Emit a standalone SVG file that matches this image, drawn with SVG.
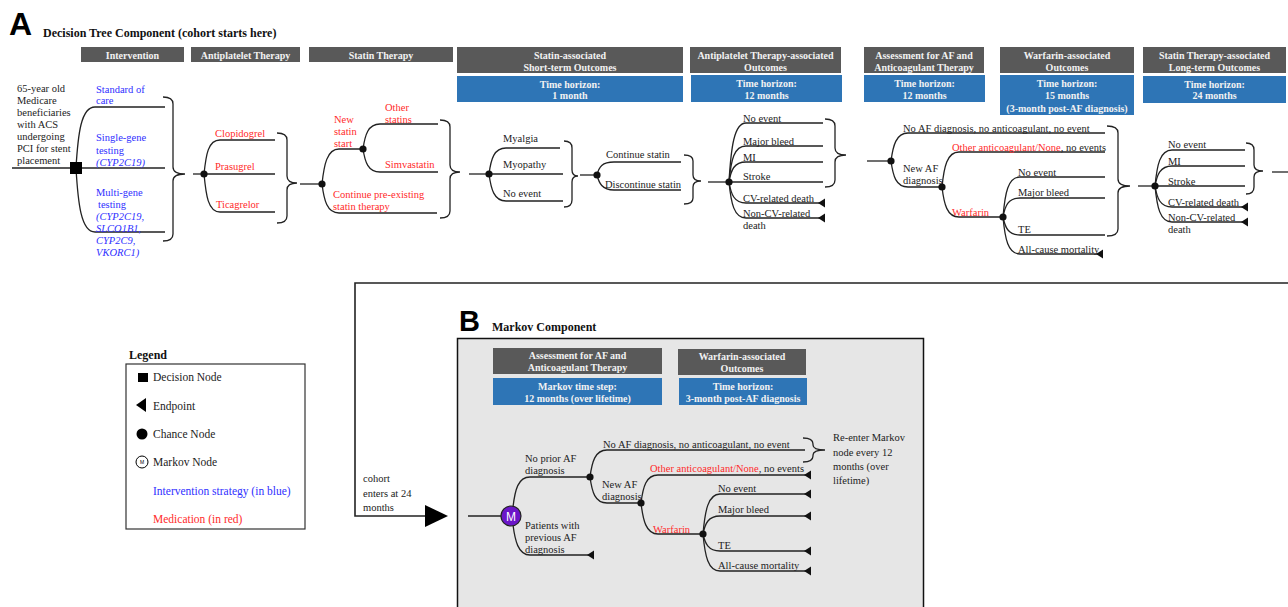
<svg xmlns="http://www.w3.org/2000/svg" xmlns:xlink="http://www.w3.org/1999/xlink" width="1288" height="607" viewBox="0 0 1288 607">
<style>
.ln{fill:none;stroke:#222;stroke-width:1.3}
.t{font-family:"Liberation Serif",serif;font-size:10.5px;fill:#222}
.lg{font-family:"Liberation Serif",serif;font-size:11.5px;fill:#222}
.bl{fill:#2f2fff}
.rd{fill:#ff2a2a}
.it{font-style:italic}
.hg{fill:#595959}
.hb{fill:#2e75b6}
.ht{font-family:"Liberation Serif",serif;font-size:10px;font-weight:bold;fill:#f2f2f2;text-anchor:middle}
.dot{fill:#111}
.big{font-family:"Liberation Sans",Arial,sans-serif;font-weight:bold;fill:#000}
.ttl{font-family:"Liberation Serif",serif;font-weight:bold;font-size:12px;fill:#111}
</style>
<defs>
<path id="ep" d="M0,0 L7,-4.5 L7,4.5 Z" fill="#111"/>
</defs>
<rect width="1288" height="607" fill="#fff"/>

<!-- Titles -->
<g id="titleA">
<text class="big" x="9" y="35" font-size="32">A</text>
<text class="ttl" x="43" y="37">Decision Tree Component (cohort starts here)</text>
</g>

<!-- Headers A -->
<g id="headersA">
<rect class="hg" x="81" y="47" width="103" height="15"/><text class="ht" x="132.5" y="59">Intervention</text>
<rect class="hg" x="191" y="47" width="109" height="15"/><text class="ht" x="245.5" y="59">Antiplatelet Therapy</text>
<rect class="hg" x="309" y="47" width="144" height="15"/><text class="ht" x="381" y="59">Statin Therapy</text>
<rect class="hg" x="457" y="47" width="226" height="26"/><text class="ht" x="570" y="59">Statin-associated</text><text class="ht" x="570" y="71">Short-term Outcomes</text>
<rect class="hb" x="457" y="76" width="226" height="26"/><text class="ht" x="570" y="88">Time horizon:</text><text class="ht" x="570" y="99">1 month</text>
<rect class="hg" x="690" y="47" width="151" height="26"/><text class="ht" x="765.5" y="59">Antiplatelet Therapy-associated</text><text class="ht" x="765.5" y="71">Outcomes</text>
<rect class="hb" x="691" y="75" width="151" height="27"/><text class="ht" x="766.5" y="87">Time horizon:</text><text class="ht" x="766.5" y="99">12 months</text>
<rect class="hg" x="864" y="47" width="120" height="26"/><text class="ht" x="924" y="59">Assessment for AF and</text><text class="ht" x="924" y="71">Anticoagulant Therapy</text>
<rect class="hb" x="864" y="75" width="121" height="27"/><text class="ht" x="924.5" y="87">Time horizon:</text><text class="ht" x="924.5" y="99">12 months</text>
<rect class="hg" x="1000" y="47" width="134" height="26"/><text class="ht" x="1067" y="59">Warfarin-associated</text><text class="ht" x="1067" y="71">Outcomes</text>
<rect class="hb" x="1000" y="75" width="134" height="40"/><text class="ht" x="1067" y="87">Time horizon:</text><text class="ht" x="1067" y="99">15 months</text><text class="ht" x="1067" y="112">(3-month post-AF diagnosis)</text>
<rect class="hg" x="1143" y="47" width="143" height="26"/><text class="ht" x="1214.5" y="59">Statin Therapy-associated</text><text class="ht" x="1214.5" y="71">Long-term Outcomes</text>
<rect class="hb" x="1143" y="76" width="143" height="27"/><text class="ht" x="1214.5" y="88">Time horizon:</text><text class="ht" x="1214.5" y="99">24 months</text>
</g>

<!-- B panel (background) -->
<g id="titleB">
<text class="big" x="459" y="331" font-size="29">B</text>
<text class="ttl" x="492" y="331" font-size="11">Markov Component</text>
</g>
<rect id="markov-panel" x="457.5" y="338.5" width="466" height="280" fill="#e6e6e6" stroke="#111" stroke-width="1.5"/>
<g id="headersB">
<rect class="hg" x="493" y="348" width="169" height="26"/><text class="ht" x="577.5" y="359">Assessment for AF and</text><text class="ht" x="577.5" y="371">Anticoagulant Therapy</text>
<rect class="hb" x="493" y="378" width="169" height="27"/><text class="ht" x="577.5" y="390">Markov time step:</text><text class="ht" x="577.5" y="402">12 months (over lifetime)</text>
<rect class="hg" x="678" y="349" width="128" height="26"/><text class="ht" x="742" y="360">Warfarin-associated</text><text class="ht" x="742" y="372">Outcomes</text>
<rect class="hb" x="679" y="378" width="128" height="27"/><text class="ht" x="743" y="390">Time horizon:</text><text class="ht" x="743" y="402">3-month post-AF diagnosis</text>
</g>

<!-- Connectors -->
<g id="connectors" class="ln">
<!-- decision -->
<path d="M12,168 H165"/>
<path d="M76,168 C78,134 81,107 95,107 H165"/>
<path d="M76,168 C78,203 81,232 95,232 H165"/>
<path d="M163,97 Q173,97 173,104 V167 Q173,174 185,174 Q173,174 173,181 V234 Q173,241 163,241"/>
<path d="M193,174 H204"/>
<!-- antiplatelet -->
<path d="M204,174 H275"/>
<path d="M204,174 C206,155 208,140 220,140 H275"/>
<path d="M204,174 C206,195 208,212 220,212 H275"/>
<path d="M277,133 Q287,133 287,140 V176 Q287,183 297,183 Q287,183 287,190 V216 Q287,223 277,223"/>
<path d="M300,184 H322"/>
<!-- statin -->
<path d="M322,184 C324,165 327,149 339,149 H363"/>
<path d="M322,184 C324,200 327,213 339,213 H437"/>
<path d="M363,149 C365,135 368,124 380,124 H438"/>
<path d="M363,149 C365,162 368,172 380,172 H438"/>
<path d="M440,120 Q450,120 450,127 V165 Q450,172 460,172 Q450,172 450,179 V211 Q450,218 440,218"/>
<path d="M469,174 H489"/>
<!-- short-term -->
<path d="M489,174 H563"/>
<path d="M489,174 C491,159 494,148 506,148 H560"/>
<path d="M489,174 C491,189 494,201 506,201 H563"/>
<path d="M564,141 Q572,141 572,148 V170 Q572,176 578,176 Q572,176 572,182 V200 Q572,207 564,207"/>
<path d="M580,175 H597"/>
<!-- continue statin -->
<path d="M597,175 C599,167 602,162 614,162 H681"/>
<path d="M597,175 C599,183 602,190 614,190 H681"/>
<path d="M684,155 Q693,155 693,161 V175 Q693,181 701,181 Q693,181 693,187 V198 Q693,204 684,204"/>
<path d="M708,182 H729"/>
<!-- antiplatelet outcomes -->
<path d="M729,182 C731,148 734,123 746,123 H823"/>
<path d="M729,182 C731,160 734,146 746,146 H823"/>
<path d="M729,182 C731,170 734,162 746,162 H823"/>
<path d="M729,182 H823"/>
<path d="M729,182 C731,194 734,203 746,203 H825"/>
<path d="M729,182 C731,203 734,218 746,218 H825"/>
<path d="M825,119 Q835,119 835,126 V148 Q835,155 846,155 Q835,155 835,162 V180 Q835,187 825,187"/>
<path d="M867,161 H891"/>
<!-- AF assessment -->
<path d="M891,161 C893,146 896,133 908,133 H1105"/>
<path d="M891,161 C893,176 896,187 908,187 H942"/>
<path d="M942,187 C944,167 947,152 959,152 H1105"/>
<path d="M942,187 C944,204 947,217 959,217 H1003"/>
<path d="M1003,217 C1005,193 1008,177 1020,177 H1105"/>
<path d="M1003,217 C1005,206 1008,198 1020,198 H1105"/>
<path d="M1003,217 C1005,227 1008,235 1020,235 H1105"/>
<path d="M1003,217 C1005,239 1008,254 1020,254 H1103"/>
<path d="M1107,126 Q1118,126 1118,133 V179 Q1118,186 1130,186 Q1118,186 1118,193 V229 Q1118,236 1107,236"/>
<path d="M1138,186 H1155"/>
<!-- long-term -->
<path d="M1155,186 C1157,165 1160,150 1172,150 H1245"/>
<path d="M1155,186 C1157,175 1160,166 1172,166 H1245"/>
<path d="M1155,186 H1245"/>
<path d="M1155,186 C1157,198 1160,207 1172,207 H1248"/>
<path d="M1155,186 C1157,207 1160,222 1172,222 H1248"/>
<path d="M1246,143 Q1254,143 1254,150 V165 Q1254,171 1263,171 Q1254,171 1254,177 V187 Q1254,194 1246,194"/>
<path d="M1272,172 H1288"/>
<!-- cohort link to Markov -->
<path d="M1288,283 H355 V516 H427" stroke-width="1.6"/>
<!-- Markov tree -->
<path d="M468,516 H501"/>
<path d="M513,507 C515,490 518,477 530,477 H590"/>
<path d="M513,525 C515,540 518,555 530,555 H594"/>
<path d="M590,477 C592,462 595,450 607,450 H805"/>
<path d="M590,477 C592,492 595,503 607,503 H641"/>
<path d="M641,503 C643,487 646,475 658,475 H811"/>
<path d="M641,503 C643,520 646,534 658,534 H703"/>
<path d="M703,534 C705,511 708,494 720,494 H811"/>
<path d="M703,534 C705,524 708,516 720,516 H811"/>
<path d="M703,534 C705,543 708,551 720,551 H811"/>
<path d="M703,534 C705,556 708,571 720,571 H811"/>
<path d="M803,438 Q813,438 813,444 V445 Q813,450 825,450 Q813,450 813,455 V456 Q813,462 803,462"/>
</g>
<polygon id="cohort-arrow" points="425,505 448,516 425,527" fill="#000"/>

<!-- Endpoints -->
<g id="endpoints">
<use xlink:href="#ep" href="#ep" x="818" y="203"/>
<use xlink:href="#ep" href="#ep" x="818" y="218"/>
<use xlink:href="#ep" href="#ep" x="1096" y="254"/>
<use xlink:href="#ep" href="#ep" x="1241" y="207"/>
<use xlink:href="#ep" href="#ep" x="1241" y="222"/>
<use xlink:href="#ep" href="#ep" x="587" y="555"/>
<use xlink:href="#ep" href="#ep" x="804" y="475"/>
<use xlink:href="#ep" href="#ep" x="804" y="494"/>
<use xlink:href="#ep" href="#ep" x="804" y="516"/>
<use xlink:href="#ep" href="#ep" x="804" y="551"/>
<use xlink:href="#ep" href="#ep" x="804" y="571"/>
</g>

<!-- Nodes A -->
<g id="node-population">
<text class="t" x="17" y="92">65-year old</text>
<text class="t" x="17" y="104">Medicare</text>
<text class="t" x="17" y="116">beneficiaries</text>
<text class="t" x="17" y="128">with ACS</text>
<text class="t" x="17" y="140">undergoing</text>
<text class="t" x="17" y="152">PCI for stent</text>
<text class="t" x="17" y="164">placement</text>
</g>
<g id="node-decision">
<rect x="70" y="162" width="12" height="12" fill="#000"/>
<text class="t bl" x="96" y="93">Standard of</text>
<text class="t bl" x="96" y="104">care</text>
<text class="t bl" x="96" y="141">Single-gene</text>
<text class="t bl" x="96" y="154">testing</text>
<text class="t bl it" x="96" y="166">(CYP2C19)</text>
<text class="t bl" x="96" y="196">Multi-gene</text>
<text class="t bl" x="98" y="208">testing</text>
<text class="t bl it" x="96" y="220">(CYP2C19,</text>
<text class="t bl it" x="96" y="232">SLCO1B1,</text>
<text class="t bl it" x="96" y="244">CYP2C9,</text>
<text class="t bl it" x="96" y="256">VKORC1)</text>
</g>
<g id="node-antiplatelet">
<circle class="dot" cx="204" cy="174" r="3.6"/>
<text class="t rd" x="215" y="137">Clopidogrel</text>
<text class="t rd" x="215" y="170">Prasugrel</text>
<text class="t rd" x="216" y="208">Ticagrelor</text>
</g>
<g id="node-statin">
<circle class="dot" cx="322" cy="184" r="3.6"/>
<text class="t rd" x="334" y="123">New</text>
<text class="t rd" x="334" y="135">statin</text>
<text class="t rd" x="334" y="147">start</text>
<text class="t rd" x="333" y="198">Continue pre-existing</text>
<text class="t rd" x="333" y="210">statin therapy</text>
</g>
<g id="node-new-statin">
<circle class="dot" cx="363" cy="149" r="3.6"/>
<text class="t rd" x="385" y="111">Other</text>
<text class="t rd" x="385" y="123">statins</text>
<text class="t rd" x="385" y="168">Simvastatin</text>
</g>
<g id="node-short-term">
<circle class="dot" cx="489" cy="174" r="3.6"/>
<text class="t" x="503" y="142">Myalgia</text>
<text class="t" x="503" y="168">Myopathy</text>
<text class="t" x="503" y="197">No event</text>
</g>
<g id="node-continue">
<circle class="dot" cx="597" cy="175" r="3.6"/>
<text class="t" x="606" y="158">Continue statin</text>
<text class="t" x="605" y="188">Discontinue statin</text>
</g>
<g id="node-antiplatelet-outcomes">
<circle class="dot" cx="729" cy="182" r="3.6"/>
<text class="t" x="743" y="122">No event</text>
<text class="t" x="743" y="145">Major bleed</text>
<text class="t" x="743" y="161">MI</text>
<text class="t" x="743" y="180">Stroke</text>
<text class="t" x="743" y="202">CV-related death</text>
<text class="t" x="743" y="217">Non-CV-related</text>
<text class="t" x="743" y="229">death</text>
</g>
<g id="node-af">
<circle class="dot" cx="891" cy="161" r="3.6"/>
<text class="t" x="903" y="132">No AF diagnosis, no anticoagulant, no event</text>
<text class="t" x="903" y="172">New AF</text>
<text class="t" x="903" y="184">diagnosis</text>
</g>
<g id="node-new-af">
<circle class="dot" cx="942" cy="187" r="3.6"/>
<text class="t" x="952" y="151"><tspan class="rd">Other anticoagulant/None</tspan>, no events</text>
<text class="t rd" x="952" y="216">Warfarin</text>
</g>
<g id="node-warfarin">
<circle class="dot" cx="1003" cy="217" r="3.6"/>
<text class="t" x="1018" y="176" font-size="11.5">No event</text>
<text class="t" x="1018" y="196">Major bleed</text>
<text class="t" x="1018" y="233">TE</text>
<text class="t" x="1018" y="253">All-cause mortality</text>
</g>
<g id="node-long-term">
<circle class="dot" cx="1155" cy="186" r="3.6"/>
<text class="t" x="1168" y="148">No event</text>
<text class="t" x="1168" y="165" font-size="12.5">MI</text>
<text class="t" x="1168" y="185">Stroke</text>
<text class="t" x="1168" y="206">CV-related death</text>
<text class="t" x="1168" y="221">Non-CV-related</text>
<text class="t" x="1168" y="233">death</text>
</g>

<!-- Legend -->
<g id="legend">
<text class="ttl" x="129" y="359" font-size="11">Legend</text>
<rect x="126" y="364" width="179" height="165" fill="#fff" stroke="#333" stroke-width="1.2"/>
<rect x="138" y="373" width="10" height="9" fill="#000"/>
<text class="lg" x="153" y="381">Decision Node</text>
<polygon points="136,405 146,398 146,412" fill="#000"/>
<text class="lg" x="153" y="410">Endpoint</text>
<circle cx="142" cy="434" r="5.5" fill="#000"/>
<text class="lg" x="153" y="438">Chance Node</text>
<circle cx="142" cy="462" r="6" fill="#fff" stroke="#000" stroke-width="1"/>
<text x="142" y="464" font-family="Liberation Sans,sans-serif" font-size="5" text-anchor="middle" fill="#000">M</text>
<text class="lg" x="153" y="466">Markov Node</text>
<text class="lg bl" x="153" y="495">Intervention strategy (in blue)</text>
<text class="lg rd" x="153" y="523">Medication (in red)</text>
</g>

<g id="cohort-label">
<text class="t" x="363" y="482">cohort</text>
<text class="t" x="363" y="497">enters at 24</text>
<text class="t" x="363" y="511">months</text>
</g>

<!-- Nodes B -->
<g id="node-markov">
<circle cx="511" cy="516" r="10" fill="#6b16c8" stroke="#222" stroke-width="1.2"/>
<text x="511" y="520.5" font-family="Liberation Sans,sans-serif" font-size="12" text-anchor="middle" fill="#fff">M</text>
<text class="t" x="525" y="462">No prior AF</text>
<text class="t" x="525" y="474">diagnosis</text>
<text class="t" x="525" y="529">Patients with</text>
<text class="t" x="525" y="541">previous AF</text>
<text class="t" x="525" y="553">diagnosis</text>
</g>
<g id="node-b-af">
<circle class="dot" cx="590" cy="477" r="3.6"/>
<text class="t" x="603" y="448">No AF diagnosis, no anticoagulant, no event</text>
<text class="t" x="602" y="488">New AF</text>
<text class="t" x="602" y="500">diagnosis</text>
</g>
<g id="node-b-new-af">
<circle class="dot" cx="641" cy="503" r="3.6"/>
<text class="t" x="650" y="472"><tspan class="rd">Other anticoagulant/None</tspan>, no events</text>
<text class="t rd" x="653" y="533">Warfarin</text>
</g>
<g id="node-b-warfarin">
<circle class="dot" cx="703" cy="534" r="3.6"/>
<text class="t" x="718" y="492" font-size="11.5">No event</text>
<text class="t" x="718" y="513">Major bleed</text>
<text class="t" x="718" y="549">TE</text>
<text class="t" x="718" y="569">All-cause mortality</text>
</g>
<g id="reenter-label">
<text class="t" x="833" y="441">Re-enter Markov</text>
<text class="t" x="833" y="456">node every 12</text>
<text class="t" x="833" y="470">months (over</text>
<text class="t" x="833" y="484">lifetime)</text>
</g>
</svg>
